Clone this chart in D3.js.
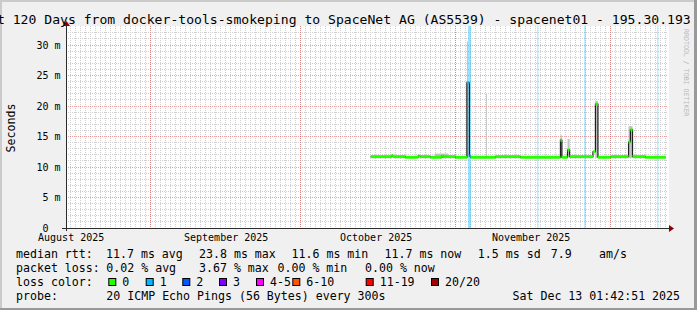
<!DOCTYPE html>
<html>
<head>
<meta charset="utf-8">
<script src="https://cdn.jsdelivr.net/npm/d3@7"></script>
<style>
  html, body { margin: 0; padding: 0; background: #f0f0f0; }
  svg { display: block; font-family: 'DejaVu Sans Mono', monospace; }
  text { white-space: pre; }
</style>
</head>
<body>
<svg id="chart" width="697" height="310"></svg>
<script>
// graph window (120 days ending at the time stamp)
const rangeStart = '2025-08-15T01:42:51';
const rangeEnd = '2025-12-13T01:42:51';
const titleText = 'Last 120 Days from docker-tools-smokeping to SpaceNet AG (AS5539) - spacenet01 - 195.30.193';

// month labels and red month grid lines
const monthLabels = ['2025-08-01', '2025-09-01', '2025-10-01', '2025-11-01'];
const monthGrid = ['2025-09-01', '2025-10-01', '2025-11-01', '2025-12-02'];
const yTicks = [0, 5, 10, 15, 20, 25, 30];

// median rtt (ms) as steps: each value holds from its time until the next one
const medianTimes = [
  '2025-10-15T00:00', '2025-10-19T06:00', '2025-10-19T11:00', '2025-10-22T00:00',
  '2025-10-24T12:00', '2025-10-24T22:00', '2025-10-27T00:00', '2025-10-29T06:00',
  '2025-10-29T12:00', '2025-11-01T00:00', '2025-11-03T06:00', '2025-11-03T18:00',
  '2025-11-04T00:00', '2025-11-09T00:00', '2025-11-14T00:00', '2025-11-21T23:00',
  '2025-11-22T06:00', '2025-11-23T09:00', '2025-11-23T19:00', '2025-11-28T11:00',
  '2025-11-28T23:00', '2025-11-29T11:00', '2025-12-02T00:00', '2025-12-05T14:00',
  '2025-12-05T23:00', '2025-12-06T09:00', '2025-12-09T00:00', '2025-12-13T00:00'
];
const medianValues = [
  11.7, 11.9, 11.7, 11.6,
  11.8, 11.7, 11.6, 11.8,
  11.7, 11.6, 23.8, 11.8,
  11.6, 11.7, 11.6, 14.4,
  11.6, 12.8, 11.7, 12.5,
  20.3, 11.6, 11.7, 14.1,
  16.1, 11.7, 11.6, 11.6
];
// lost pings (of 20) for each step
const medianLoss = [
  0, 0, 0, 0,
  0, 0, 0, 0,
  0, 0, 1, 1,
  0, 0, 0, 0,
  0, 0, 0, 0,
  0, 0, 0, 0,
  0, 0, 0, 0
];

// smoke: [from, to, lowest ping, highest ping]
const smokeBands = [
  ['2025-10-27T21:00', '2025-10-30T12:00', 11.5, 12.2],
  ['2025-11-03T06:00', '2025-11-03T11:00', 11.5, 30.6],
  ['2025-11-07T02:00', '2025-11-07T06:00', 11.6, 22.0],
  ['2025-11-21T23:00', '2025-11-22T06:00', 11.5, 15.2],
  ['2025-11-23T09:00', '2025-11-23T19:00', 11.6, 14.6],
  ['2025-11-28T23:00', '2025-11-29T11:00', 11.5, 20.8],
  ['2025-12-05T14:00', '2025-12-06T09:00', 11.5, 16.7]
];

// loss bars: [from, to, lost pings]
const lossBars = [
  ['2025-11-03T11:00', '2025-11-04T02:00', 1],
  ['2025-11-17T08:00', '2025-11-17T13:00', 1],
  ['2025-11-26T18:00', '2025-11-27T00:00', 1],
  ['2025-12-11T08:00', '2025-12-11T13:00', 1]
];

// legend
const lossLabels = ['0', '1', '2', '3', '4-5', '6-10', '11-19', '20/20'];
const lossLimits = [0, 1, 2, 3, 5, 10, 19, 20];
const lossColors = ['#26ff00', '#00b8ff', '#0059ff', '#7e00ff', '#ff00ff', '#ff5500', '#ff0000', '#a10000'];
const rttNames = ['avg', 'max', 'min', 'now'];
const rttValues = [11.7, 23.8, 11.6, 11.7];
const rttSd = 1.5;
const rttAmps = 7.9;
const lossNames = ['avg', 'max', 'min', 'now'];
const lossValues = [0.02, 3.67, 0.00, 0.00];
const probeText = '20 ICMP Echo Pings (56 Bytes) every 300s';
const stampText = 'Sat Dec 13 01:42:51 2025';

const parseFull = d3.utcParse('%Y-%m-%dT%H:%M:%S');
const parseTime = d3.utcParse('%Y-%m-%dT%H:%M');
const parseDay = d3.utcParse('%Y-%m-%d');

const svg = d3.select('#chart');
const plotL = 66, plotR = 666, plotT = 28, plotB = 228;

var x = d3.scaleUtc()
    .domain([parseFull(rangeStart), parseFull(rangeEnd)])
    .range([plotL, plotR]);
var y = d3.scaleLinear()
    .domain([0, 32.79])
    .range([plotB, plotT]);
const px = v => Math.floor(v) + 0.5;
const lossColor = n => lossColors[d3.bisectLeft(lossLimits, n)];

// background, shading, canvas
svg.append('rect').attr('width', 697).attr('height', 310).attr('fill', '#f0f0f0');
svg.append('path').attr('d', 'M0,0H697V2H2V310H0Z').attr('fill', '#cbcbcb');
svg.append('path').attr('d', 'M697,0V310H0V308H694V0Z').attr('fill', '#999999');
svg.append('rect')
    .attr('x', plotL).attr('y', plotT - 2)
    .attr('width', plotR - plotL + 3).attr('height', plotB - plotT + 2)
    .attr('fill', '#ffffff');

// minor grid
const grid = svg.append('g').attr('shape-rendering', 'crispEdges');
grid.selectAll('.vday')
    .data(d3.utcDay.range(x.domain()[0], x.domain()[1]))
    .enter()
    .append('line')
    .attr('x1', d => px(x(d))).attr('x2', d => px(x(d)))
    .attr('y1', plotT - 2).attr('y2', plotB)
    .attr('stroke', '#cfcfcf')
    .attr('stroke-dasharray', '1,1');
grid.selectAll('.hmin')
    .data(d3.range(1, 33).filter(v => v % 5 !== 0))
    .enter()
    .append('line')
    .attr('x1', plotL).attr('x2', plotR + 2)
    .attr('y1', d => px(y(d))).attr('y2', d => px(y(d)))
    .attr('stroke', '#cfcfcf')
    .attr('stroke-dasharray', '1,1');
// major grid
grid.selectAll('.vmonth')
    .data(monthGrid.map(parseDay))
    .enter()
    .append('line')
    .attr('x1', d => px(x(d))).attr('x2', d => px(x(d)))
    .attr('y1', plotT - 2).attr('y2', plotB)
    .attr('stroke', 'rgba(222,48,48,0.45)')
    .attr('stroke-dasharray', '1,1');
grid.selectAll('.hmaj')
    .data(yTicks.filter(v => v > 0))
    .enter()
    .append('line')
    .attr('x1', plotL).attr('x2', plotR + 2)
    .attr('y1', d => px(y(d))).attr('y2', d => px(y(d)))
    .attr('stroke', 'rgba(222,48,48,0.45)')
    .attr('stroke-dasharray', '1,1');

// loss bars
svg.selectAll('.lossbar')
    .data(lossBars)
    .enter()
    .append('rect')
    .attr('x', d => x(parseTime(d[0])))
    .attr('width', d => x(parseTime(d[1])) - x(parseTime(d[0])))
    .attr('y', plotT - 2)
    .attr('height', plotB - plotT + 2)
    .attr('fill', d => lossColor(d[2]))
    .attr('fill-opacity', 0.4);

// smoke
svg.selectAll('.smoke')
    .data(smokeBands)
    .enter()
    .append('rect')
    .attr('x', d => x(parseTime(d[0])))
    .attr('width', d => x(parseTime(d[1])) - x(parseTime(d[0])))
    .attr('y', d => y(d[3]))
    .attr('height', d => y(d[2]) - y(d[3]))
    .attr('fill', '#c2c2c2');

// median line
const steps = medianTimes.map((t, i) => ({ t: parseTime(t), v: medianValues[i], loss: medianLoss[i] }));
svg.append('path')
    .datum(steps)
    .attr('d', d3.line().x(d => x(d.t)).y(d => y(d.v)).curve(d3.curveStepAfter))
    .attr('fill', 'none')
    .attr('stroke', '#202020')
    .attr('stroke-width', 1.2);
svg.selectAll('.median')
    .data(steps.slice(0, -1))
    .enter()
    .append('line')
    .attr('x1', d => x(d.t))
    .attr('x2', (d, i) => x(steps[i + 1].t))
    .attr('y1', d => y(d.v)).attr('y2', d => y(d.v))
    .attr('stroke', d => lossColor(d.loss))
    .attr('stroke-width', 3);

// axes
const axisColor = '#2c2c2c', arrowColor = '#8b0000';
svg.append('line')
    .attr('x1', px(plotL)).attr('x2', px(plotL))
    .attr('y1', plotB + 3).attr('y2', plotT - 4)
    .attr('stroke', axisColor);
svg.append('line')
    .attr('x1', plotL - 4).attr('x2', plotR + 4)
    .attr('y1', px(plotB)).attr('y2', px(plotB))
    .attr('stroke', axisColor);
svg.append('path')
    .attr('d', `M${plotL - 3},${plotT - 2}L${plotL + 4},${plotT - 2}L${plotL + 0.5},${plotT - 7}Z`)
    .attr('fill', arrowColor);
svg.append('path')
    .attr('d', `M${plotR + 3},${plotB - 3}L${plotR + 3},${plotB + 4}L${plotR + 8},${plotB + 0.5}Z`)
    .attr('fill', arrowColor);

// y labels ("0" sits in the number column, without the unit)
const yAxis = svg.append('g')
    .attr('transform', `translate(${plotL},0)`)
    .call(d3.axisLeft(y).tickValues(yTicks).tickSize(0).tickPadding(5.5)
        .tickFormat(d => d === 0 ? '0' : d + ' m'));
yAxis.select('.domain').remove();
yAxis.selectAll('text')
    .attr('font-family', 'DejaVu Sans Mono')
    .attr('font-size', 10)
    .attr('fill', '#000')
    .attr('x', d => d === 0 ? -5.5 - 2 * 6.02 : -5.5);

// x labels centred half a month after the month start
const xAxis = svg.append('g')
    .attr('transform', `translate(0,${plotB})`)
    .call(d3.axisBottom(x)
        .tickValues(monthLabels.map(m => d3.utcDay.offset(parseDay(m), 15)))
        .tickSize(0).tickPadding(6)
        .tickFormat(d => d3.utcFormat('%B %Y')(d3.utcMonth.floor(d))));
xAxis.select('.domain').remove();
xAxis.selectAll('text')
    .attr('font-family', 'DejaVu Sans Mono')
    .attr('font-size', 10)
    .attr('fill', '#000');

// title, unit, watermark
svg.append('text')
    .attr('x', -26.7).attr('y', 24)
    .attr('font-size', 13.1)
    .text(titleText);
svg.append('text')
    .attr('transform', 'translate(15,128) rotate(-90)')
    .attr('text-anchor', 'middle')
    .attr('font-size', 11.6)
    .text('Seconds');
svg.append('text')
    .attr('transform', 'translate(684,29) rotate(90)')
    .attr('font-size', 6.6)
    .attr('fill', '#b8b8b8')
    .text('RRDTOOL / TOBI OETIKER');

// legend
const legend = svg.append('g').attr('font-size', 11.6).attr('fill', '#000');
const f1 = d3.format('.1f'), f2 = d3.format('.2f');
const row = (yy, items) => items.forEach(it => legend.append('text').attr('x', it[0]).attr('y', yy).text(it[1]));
const rttX = [106, 199, 291.5, 384.5];
row(258, [[16, 'median rtt:']]
    .concat(rttValues.map((v, i) => [rttX[i], f1(v) + ' ms ' + rttNames[i]]))
    .concat([[477.8, f1(rttSd) + ' ms sd'], [550.7, f1(rttAmps)], [599, 'am/s']]));
const lossX = [106.3, 199, 277.5, 365];
row(272, [[16, 'packet loss:']]
    .concat(lossValues.map((v, i) => [lossX[i], f2(v) + ' % ' + lossNames[i]])));
row(286, [[16, 'loss color:']]);
const boxX = [108.3, 145.7, 182.3, 219, 256, 292.3, 365.7, 431];
lossLabels.forEach((l, i) => {
    legend.append('rect')
        .attr('x', boxX[i] + 0.5).attr('y', 278.5)
        .attr('width', 7).attr('height', 7)
        .attr('fill', lossColors[i])
        .attr('stroke', '#000');
    legend.append('text').attr('x', boxX[i] + 14).attr('y', 286).text(l);
});
row(300, [[16, 'probe:'], [106.3, probeText], [512.5, stampText]]);
</script>
</body>
</html>
